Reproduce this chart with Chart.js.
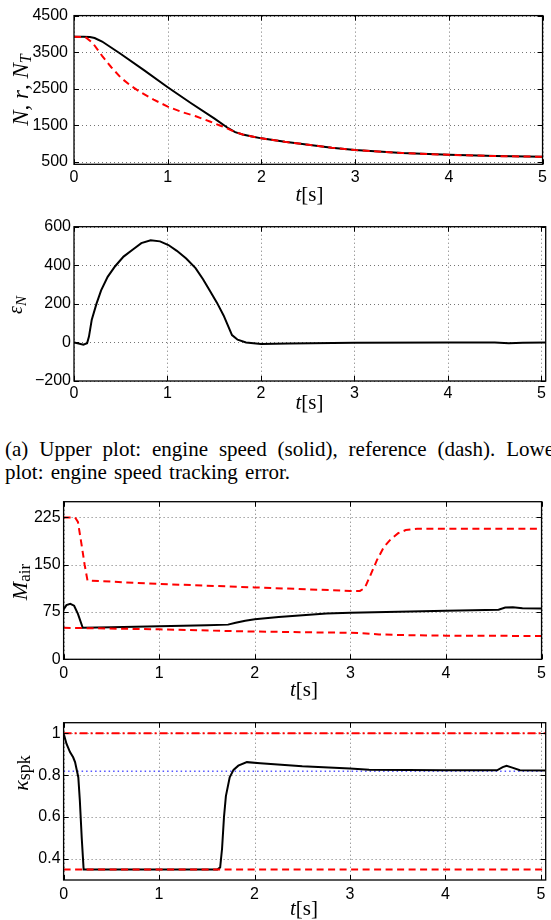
<!DOCTYPE html>
<html><head><meta charset="utf-8">
<script src="https://cdn.jsdelivr.net/npm/chart.js@4/dist/chart.umd.min.js"></script>
<style>
html,body{margin:0;padding:0;width:551px;height:920px;overflow:hidden;background:#fff;}
canvas{position:absolute;left:0;}
.cap{position:absolute;left:5px;font-family:"Liberation Serif","Times New Roman",serif;font-size:21px;line-height:23px;color:#000;}
</style></head><body>
<canvas id="c1" width="551" height="205" style="top:0px;width:551px;height:205px"></canvas>
<canvas id="c2" width="551" height="215" style="top:205px;width:551px;height:215px"></canvas>
<canvas id="c3" width="551" height="212" style="top:488px;width:551px;height:212px"></canvas>
<canvas id="c4" width="551" height="220" style="top:700px;width:551px;height:220px"></canvas>
<div class="cap" style="top:438px;width:556px;text-align:justify;text-align-last:justify;">(a) Upper plot: engine speed (solid), reference (dash). Lower</div>
<div class="cap" style="top:461px;white-space:nowrap;word-spacing:2px;">plot: engine speed tracking error.</div>
<script>
// ---------- data ----------
const ticksX = [0, 1, 2, 3, 4, 5];
const ticksN = [500, 1500, 2500, 3500, 4500];
const ticksErr = [-200, 0, 200, 400, 600];
const ticksMair = [0, 75, 150, 225];
const ticksK = [0.4, 0.6, 0.8, 1];

// plot 1: engine speed N (solid) and reference r (dash)
const tN = [0, 0.1, 0.17, 0.22, 0.3, 0.5, 0.75, 1.0, 1.25, 1.5, 1.65, 1.72, 1.8, 1.9, 2.0, 2.25, 2.5, 2.75, 3.0, 3.5, 4.0, 4.5, 5.0];
const N  = [3920, 3920, 3912, 3885, 3790, 3450, 3000, 2540, 2100, 1680, 1410, 1310, 1245, 1190, 1140, 1045, 965, 885, 820, 740, 690, 655, 635];
const tR = [0, 0.12, 0.2, 0.3, 0.4, 0.5, 0.6, 0.7, 0.85, 1.0, 1.15, 1.3, 1.45, 1.55, 1.68, 1.75, 1.8, 1.9, 2.0, 2.25, 2.5, 2.75, 3.0, 3.5, 4.0, 4.5, 5.0];
const R  = [3920, 3915, 3750, 3400, 3080, 2800, 2590, 2420, 2200, 2010, 1860, 1745, 1600, 1500, 1360, 1290, 1245, 1190, 1140, 1045, 965, 885, 820, 740, 690, 655, 635];

// plot 2: tracking error
const tE = [0, 0.05, 0.1, 0.14, 0.16, 0.19, 0.24, 0.29, 0.36, 0.44, 0.53, 0.63, 0.72, 0.82, 0.92, 1.01, 1.1, 1.2, 1.3, 1.38, 1.45, 1.53, 1.6, 1.69, 1.75, 1.84, 2.0, 2.3, 3.0, 4.0, 4.5, 4.65, 4.8, 5.05];
const E  = [0, -6, -12, -4, 30, 118, 200, 270, 340, 395, 445, 482, 515, 530, 524, 505, 475, 435, 385, 328, 270, 205, 140, 38, 14, 0, -8, -5, -2, 0, 0, -4, -2, 0];

// plot 3: air mass and bounds
const tM  = [0, 0.03, 0.07, 0.11, 0.15, 0.2, 0.5, 1.0, 1.5, 1.72, 1.8, 1.9, 2.0, 2.25, 2.5, 2.75, 3.0, 3.5, 4.0, 4.55, 4.62, 4.7, 4.8, 5.0];
const M   = [79, 86, 88, 85, 72, 50, 51, 52.5, 54, 55, 58, 61, 63.5, 67, 70, 72.5, 74, 75.5, 77, 78.5, 82, 82.5, 81, 80.5];
const tMu = [0, 0.12, 0.15, 0.19, 0.22, 0.25, 1.0, 2.0, 3.0, 3.1, 3.15, 3.2, 3.28, 3.35, 3.42, 3.5, 3.58, 3.7, 5.0];
const Mu  = [225, 225, 218, 180, 150, 125, 119.5, 114, 108.5, 108.5, 113, 130, 158, 178, 190, 200, 205, 207, 207];
const tMl = [0, 1.0, 1.7, 2.0, 3.0, 3.1, 3.3, 3.5, 4.0, 5.0];
const Ml  = [50, 47.5, 45, 44, 42, 41.5, 39.5, 38.5, 37.5, 37];

// plot 4: spark efficiency and limits
const tK = [0, 0.03, 0.067, 0.1, 0.12, 0.154, 0.17, 0.19, 0.21, 1.61, 1.64, 1.66, 1.68, 1.7, 1.74, 1.78, 1.83, 1.92, 2.06, 2.5, 3.0, 3.2, 3.6, 4.0, 4.54, 4.6, 4.64, 4.7, 4.78, 5.05];
const K  = [1.0, 0.95, 0.91, 0.885, 0.862, 0.79, 0.68, 0.5, 0.35, 0.35, 0.36, 0.45, 0.6, 0.7, 0.79, 0.825, 0.845, 0.862, 0.857, 0.842, 0.832, 0.826, 0.824, 0.823, 0.823, 0.838, 0.845, 0.836, 0.823, 0.822];
const tLim = [0, 5.05];
const Kmax = [1, 1];
const Kmin = [0.35, 0.35];
const Kopt = [0.818, 0.818];

// ---------- helpers ----------
const pts = (xs, ys) => xs.map((x, i) => ({x: x, y: ys[i]}));
const SERIF = '"Liberation Serif","Times New Roman",serif';
const SANS = '"Liberation Sans",Arial,Helvetica,sans-serif';
const it = s => 'italic ' + s + 'px ' + SERIF;
const rm = s => s + 'px ' + SERIF;

const TITLES = {
  c1: {top: 0,   x: {cx: 309.5, by: 201}, y: {bx: 28, cy: 90,  segs: [['N', it(23)], [', ', it(23)], ['r', it(23)], [', ', it(23)], ['N', it(23)], ['T', it(16), 3]]}},
  c2: {top: 205, x: {cx: 309.5, by: 409}, y: {bx: 22, cy: 305, segs: [['\u03B5', it(20)], ['N', it(15), 4]]}},
  c3: {top: 488, x: {cx: 304, by: 696},   y: {bx: 27, cy: 582, segs: [['M', it(22)], ['air', rm(17), 3]]}},
  c4: {top: 700, x: {cx: 304, by: 914.5}, y: {bx: 28, cy: 773, segs: [['\u03BA', it(22)], ['spk', rm(18), 2]]}}
};

function drawSegs(ctx, segs) {
  let w = 0;
  segs.forEach(s => { ctx.font = s[1]; w += ctx.measureText(s[0]).width; });
  let x = -w / 2;
  segs.forEach(s => { ctx.font = s[1]; ctx.fillText(s[0], x, s[2] || 0); x += ctx.measureText(s[0]).width; });
}

const framePlugin = {
  id: 'frame',
  beforeDatasetsDraw(chart) {
    const {ctx, chartArea: a, scales: {x, y}} = chart;
    ctx.save();
    ctx.strokeStyle = 'rgba(70,70,70,0.75)';
    ctx.lineWidth = 1;
    ctx.setLineDash([1, 3]);
    x.ticks.forEach(t => {
      const p = Math.round(x.getPixelForValue(t.value)) + 0.5;
      ctx.beginPath(); ctx.moveTo(p, a.top); ctx.lineTo(p, a.bottom); ctx.stroke();
    });
    y.ticks.forEach(t => {
      const p = Math.round(y.getPixelForValue(t.value)) + 0.5;
      ctx.beginPath(); ctx.moveTo(a.left, p); ctx.lineTo(a.right, p); ctx.stroke();
    });
    ctx.restore();
  },
  afterDatasetsDraw(chart) {
    const {ctx, chartArea: a, scales: {x, y}} = chart;
    ctx.save();
    ctx.setLineDash([]);
    ctx.strokeStyle = '#000';
    ctx.lineWidth = 1.3;
    ctx.strokeRect(a.left, a.top, a.right - a.left, a.bottom - a.top);
    ctx.lineWidth = 1;
    const L = 5;
    x.ticks.forEach(t => {
      const p = Math.round(x.getPixelForValue(t.value)) + 0.5;
      ctx.beginPath();
      ctx.moveTo(p, a.bottom); ctx.lineTo(p, a.bottom - L);
      ctx.moveTo(p, a.top); ctx.lineTo(p, a.top + L);
      ctx.stroke();
    });
    y.ticks.forEach(t => {
      const p = Math.round(y.getPixelForValue(t.value)) + 0.5;
      ctx.beginPath();
      ctx.moveTo(a.left, p); ctx.lineTo(a.left + L, p);
      ctx.moveTo(a.right, p); ctx.lineTo(a.right - L, p);
      ctx.stroke();
    });
    ctx.restore();
  },
  afterDraw(chart) {
    const T = TITLES[chart.canvas.id];
    if (!T) return;
    const ctx = chart.ctx;
    ctx.save();
    ctx.fillStyle = '#000';
    ctx.textAlign = 'left';
    ctx.textBaseline = 'alphabetic';
    ctx.save();
    ctx.translate(T.x.cx, T.x.by - T.top);
    drawSegs(ctx, [['t', it(21)], ['[s]', rm(21)]]);
    ctx.restore();
    ctx.save();
    ctx.translate(T.y.bx, T.y.cy - T.top);
    ctx.rotate(-Math.PI / 2);
    drawSegs(ctx, T.y.segs);
    ctx.restore();
    ctx.restore();
  }
};

function makeChart(id, c) {
  return new Chart(document.getElementById(id), {
    type: 'line',
    data: {datasets: c.datasets},
    options: {
      responsive: false,
      animation: false,
      devicePixelRatio: 1,
      events: [],
      layout: {padding: {top: c.top, right: c.right, left: 0, bottom: 0}},
      plugins: {legend: {display: false}, tooltip: {enabled: false}},
      elements: {point: {radius: 0}, line: {tension: 0}},
      scales: {
        x: {
          type: 'linear', min: 0, max: c.xmax,
          grid: {display: false, drawTicks: false},
          border: {display: false},
          afterBuildTicks: s => { s.ticks = ticksX.map(v => ({value: v})); },
          ticks: {autoSkip: false, maxRotation: 0, padding: c.xpad, color: '#000',
                  font: {family: SANS, size: 16}, callback: v => String(v)},
          afterFit: s => { s.height = c.xh; }
        },
        y: {
          type: 'linear', min: c.ymin, max: c.ymax,
          grid: {display: false, drawTicks: false},
          border: {display: false},
          afterBuildTicks: s => { s.ticks = c.yt.map(v => ({value: v})); },
          ticks: {padding: c.ypad, color: '#000', font: {family: SANS, size: 16},
                  callback: v => (v < 0 ? '\u2212' + Math.abs(v) : String(v))},
          afterFit: s => { s.width = c.yw; }
        }
      }
    },
    plugins: [framePlugin]
  });
}

const RED = '#ff0000';
const dash = [7, 4.5];

makeChart('c1', {
  top: 11, right: 6, xh: 40.7, yw: 74, xmax: 5, ymin: 430, ymax: 4500, yt: ticksN, xpad: 4, ypad: 6,
  datasets: [
    {data: pts(tR, R), borderColor: RED, borderWidth: 2, borderDash: dash},
    {data: pts(tN, N), borderColor: '#000', borderWidth: 2}
  ]
});

makeChart('c2', {
  top: 21.7, right: 5.3, xh: 39, yw: 74, xmax: 5.045, ymin: -200, ymax: 600, yt: ticksErr, xpad: 3, ypad: 3,
  datasets: [
    {data: pts(tE, E), borderColor: '#000', borderWidth: 2}
  ]
});

makeChart('c3', {
  top: 13.7, right: 6.4, xh: 40.7, yw: 63.6, xmax: 5, ymin: 0, ymax: 250, yt: ticksMair, xpad: 5, ypad: 3,
  datasets: [
    {data: pts(tMu, Mu), borderColor: RED, borderWidth: 2, borderDash: dash},
    {data: pts(tMl, Ml), borderColor: RED, borderWidth: 2, borderDash: dash},
    {data: pts(tM, M), borderColor: '#000', borderWidth: 2}
  ]
});

makeChart('c4', {
  top: 22.7, right: 5.3, xh: 40, yw: 63.6, xmax: 5.05, ymin: 0.3, ymax: 1.05, yt: ticksK, xpad: 5, ypad: 3,
  datasets: [
    {data: pts(tLim, Kmax), borderColor: RED, borderWidth: 2, borderDash: [8, 3, 2, 3]},
    {data: pts(tLim, Kmin), borderColor: RED, borderWidth: 2, borderDash: dash},
    {data: pts(tK, K), borderColor: '#000', borderWidth: 2},
    {data: pts(tLim, Kopt), borderColor: '#5555ff', borderWidth: 1.5, borderDash: [1.5, 3]}
  ]
});
</script>
</body></html>
